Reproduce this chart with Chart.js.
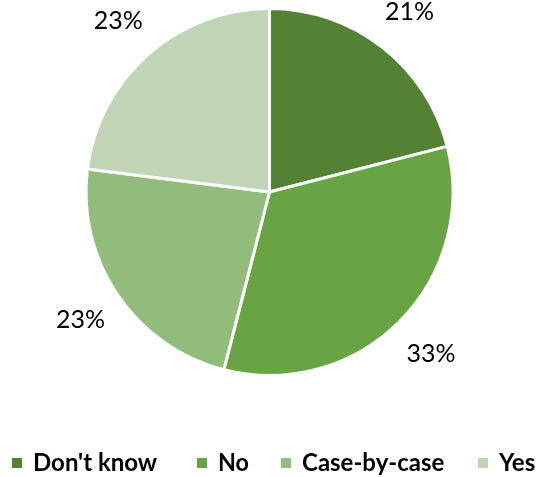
<!DOCTYPE html>
<html>
<head>
<meta charset="utf-8">
<script src="https://cdn.jsdelivr.net/npm/chart.js@4/dist/chart.umd.min.js"></script>
<style>
  html, body { margin: 0; padding: 0; background: #ffffff; }
  #wrap { width: 543px; height: 477px; position: relative; }
</style>
</head>
<body>
<div id="wrap"><canvas id="pie"></canvas></div>
<script>
// 数据
const categories = ["Don't know", 'No', 'Case-by-case', 'Yes'];
const shares = [21, 33, 23, 23];
const sliceColors = ['#548235', '#69a444', '#92bc7b', '#bfd5b5'];

const FONT = 'Lato, "Open Sans", sans-serif';

// 扇区外侧的百分比标签
const outsideLabels = {
    id: 'outsideLabels',
    afterDatasetsDraw(chart) {
        const ctx = chart.ctx;
        const meta = chart.getDatasetMeta(0);
        ctx.save();
        ctx.font = '25px ' + FONT;
        ctx.fillStyle = '#000000';
        ctx.textAlign = 'center';
        ctx.textBaseline = 'middle';
        meta.data.forEach((arc, i) => {
            const p = arc.getProps(['x', 'y', 'startAngle', 'endAngle', 'outerRadius'], true);
            const mid = (p.startAngle + p.endAngle) / 2;
            const r = p.outerRadius + 45;
            ctx.fillText(shares[i] + '%', p.x + Math.cos(mid) * r, p.y + Math.sin(mid) * r);
        });
        ctx.restore();
    }
};

// 底部图例（一行排开）
const bottomLegend = {
    id: 'bottomLegend',
    afterDraw(chart) {
        const ctx = chart.ctx;
        const startX = [12, 197, 281, 478];
        const maxW = [130, 31, 148, 39];
        const y = 463;
        ctx.save();
        ctx.font = 'bold 24px ' + FONT;
        ctx.textBaseline = 'middle';
        ctx.textAlign = 'left';
        chart.data.labels.forEach((label, i) => {
            ctx.fillStyle = chart.data.datasets[0].backgroundColor[i];
            ctx.fillRect(startX[i], y - 5, 10, 10);
            ctx.fillStyle = '#000000';
            ctx.fillText(label, startX[i] + 21, y, maxW[i]);
        });
        ctx.restore();
    }
};

new Chart(document.getElementById('pie'), {
    type: 'pie',
    data: {
        labels: categories,
        datasets: [{
            data: shares,
            backgroundColor: sliceColors,
            borderColor: '#ffffff',
            borderWidth: 3
        }]
    },
    options: {
        responsive: true,
        maintainAspectRatio: false,
        animation: false,
        layout: {
            padding: { top: 7, bottom: 100, left: 84, right: 88 }
        },
        plugins: {
            legend: { display: false },
            tooltip: { enabled: false }
        }
    },
    plugins: [outsideLabels, bottomLegend]
});
</script>
</body>
</html>
